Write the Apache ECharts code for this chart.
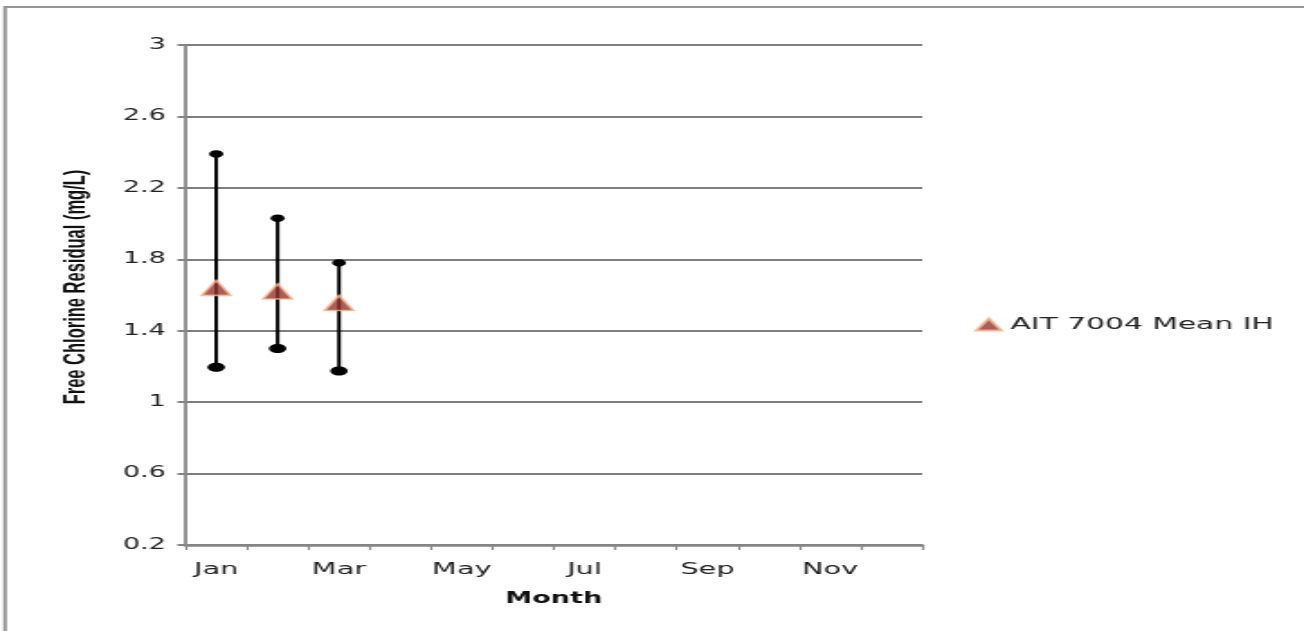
<!DOCTYPE html>
<html>
<head>
<meta charset="utf-8">
<script src="https://cdn.jsdelivr.net/npm/echarts@6/dist/echarts.min.js"></script>
<style>
html,body{margin:0;padding:0;background:#fff;overflow:hidden;}
#wrap{width:1304px;height:631px;overflow:hidden;}
#chart{width:724px;height:631px;transform:scaleX(1.80110);transform-origin:0 0;}
</style>
</head>
<body>
<div id="wrap"><div id="chart"></div></div>
<script>
var months = ['Jan','Feb','Mar','Apr','May','Jun','Jul','Aug','Sep','Oct','Nov','Dec'];
var meanValues = [1.64, 1.62, 1.555];
var lowValues = [1.195, 1.30, 1.175];
var highValues = [2.39, 2.03, 1.78];
var seriesName = 'AIT 7004 Mean IH';
var yTitle = 'Free Chlorine Residual (mg/L)';
var xTitle = 'Month';

var errData = meanValues.map(function (v, i) { return [i, lowValues[i], highValues[i]]; });
var meanData = meanValues.map(function (v, i) { return [i, v]; });

var chart = echarts.init(document.getElementById('chart'));
chart.setOption({
  animation: false,
  backgroundColor: '#fff',
  graphic: [{
    type: 'rect',
    shape: { x: 2.8, y: 7, width: 900, height: 700 },
    style: { fill: 'none', stroke: '#959595', lineWidth: 2 },
    silent: true
  }],
  grid: { left: 103, right: 212, top: 45, bottom: 86 },
  legend: {
    data: [seriesName],
    left: 536, top: 311,
    itemWidth: 14, itemHeight: 12, itemGap: 5,
    textStyle: { fontFamily: 'DejaVu Sans', fontSize: 16.5, color: '#222' }
  },
  xAxis: {
    type: 'category',
    data: months,
    boundaryGap: true,
    name: xTitle,
    nameLocation: 'middle',
    nameGap: 47,
    nameTextStyle: { fontFamily: 'DejaVu Sans', fontWeight: 'bold', fontSize: 15, color: '#111' },
    axisLine: { lineStyle: { color: '#868686', width: 2.5 } },
    axisTick: { show: true, interval: 0, length: 5, lineStyle: { color: '#868686', width: 1.2 } },
    axisLabel: { interval: 1, margin: 17, fontFamily: 'DejaVu Sans', fontSize: 16, color: '#222' },
    splitLine: { show: false }
  },
  yAxis: {
    type: 'value',
    min: 0.2, max: 3, interval: 0.4,
    name: yTitle,
    nameLocation: 'middle',
    nameGap: 52,
    nameTextStyle: { fontFamily: 'Liberation Sans', fontWeight: 'bold', fontSize: 16.5, color: '#111', padding: [0, 0, 0, 16] },
    axisLine: { show: true, lineStyle: { color: '#868686', width: 1.8 } },
    axisTick: { show: true, length: 4.5, lineStyle: { color: '#868686', width: 2 } },
    axisLabel: { margin: 11, fontFamily: 'DejaVu Sans', fontSize: 15, color: '#222' },
    splitLine: { show: true, lineStyle: { color: '#7f7f7f', width: 1.8 } }
  },
  series: [{
    type: 'custom',
    name: 'range',
    data: errData,
    z: 2,
    renderItem: function (params, api) {
      var x = api.value(0);
      var lo = api.coord([x, api.value(1)]);
      var hi = api.coord([x, api.value(2)]);
      return {
        type: 'group',
        children: [
          { type: 'line', shape: { x1: lo[0], y1: lo[1], x2: hi[0], y2: hi[1] }, style: { stroke: '#000', lineWidth: 2 } },
          { type: 'ellipse', shape: { cx: hi[0], cy: hi[1], rx: 3.9, ry: 3.7 }, style: { fill: '#000' } },
          { type: 'ellipse', shape: { cx: lo[0], cy: lo[1], rx: 4.8, ry: 4.5 }, style: { fill: '#000' } }
        ]
      };
    }
  }, {
    type: 'scatter',
    name: seriesName,
    data: meanData,
    z: 5,
    symbol: 'triangle',
    symbolSize: [16, 15],
    itemStyle: { color: '#953530', borderColor: '#f7b48e', borderWidth: 1.6 }
  }]
});
</script>
</body>
</html>
